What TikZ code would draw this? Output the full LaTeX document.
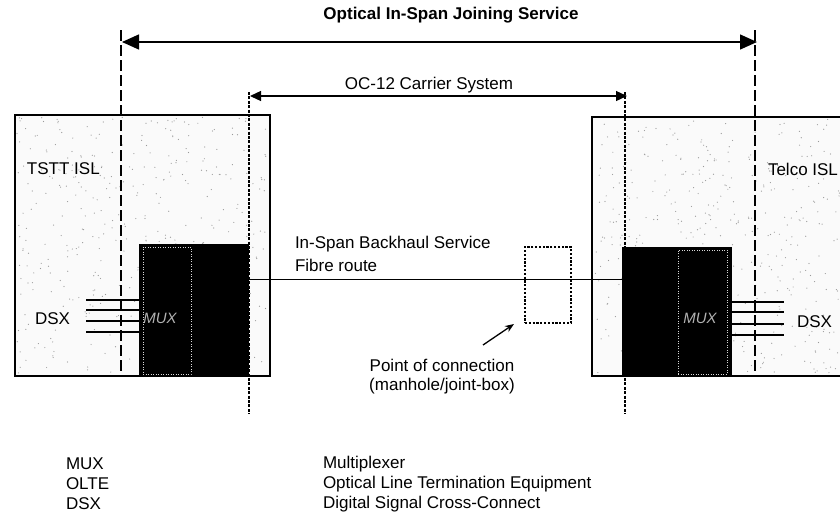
\documentclass[tikz,border=0pt]{standalone}
\usepackage{fontspec}
\setmainfont{Liberation Sans}
\usetikzlibrary{arrows.meta}
\begin{document}
\begin{tikzpicture}[x=1pt,y=-1pt,
  every node/.style={font=\fontsize{17}{20}\selectfont, inner sep=0pt, outer sep=0pt},
  islbox/.style={draw, line width=1.2pt, fill=gray!4, anchor=north west},
  oltebox/.style={fill=black, anchor=north west},
  muxbox/.style={draw=white!85!black, dash pattern=on 1pt off 1.5pt, line width=0.9pt, anchor=north west},
  muxtext/.style={text=white!70!black, font=\fontsize{15}{18}\selectfont\itshape},
  longdash/.style={line width=1.7pt, dash pattern=on 11pt off 4pt},
  ocdash/.style={line width=2.8pt, dash pattern=on 3pt off 1.4pt},
  dsxline/.style={line width=1.3pt},
  fibre/.style={line width=1pt},
  bigarrow/.style={line width=1.4pt, {Triangle[length=17pt,width=15pt]}-{Triangle[length=17pt,width=15pt]}},
  smallarrow/.style={line width=1.3pt, {Triangle[length=11pt,width=10pt]}-{Triangle[length=11pt,width=10pt]}},
  pocbox/.style={draw, line width=2.8pt, dash pattern=on 2.2pt off 1.6pt, anchor=north west},
  lbl/.style={anchor=west},
]
\useasboundingbox (0,0) rectangle (840,525);

% ISL boxes
\node[islbox, minimum width=255pt, minimum height=261pt] (islL) at (15,115) {};
\node[islbox, minimum width=262pt, minimum height=259pt] (islR) at (592,117) {};

% speckle
\pgfmathsetseed{11}
\foreach \i in {1,...,420}{
  \pgfmathsetmacro\xx{17+251*rnd}
  \pgfmathsetmacro\yy{117+257*rnd}
  \fill[gray!80] (\xx,\yy) circle (0.6pt);
}
\foreach \i in {1,...,420}{
  \pgfmathsetmacro\xx{594+246*rnd}
  \pgfmathsetmacro\yy{119+255*rnd}
  \fill[gray!80] (\xx,\yy) circle (0.6pt);
}

% OLTE blocks
\node[oltebox, minimum width=110pt, minimum height=132pt] (olteL) at (139,244) {};
\node[oltebox, minimum width=110pt, minimum height=129pt] (olteR) at (622,247) {};
\node[muxbox, minimum width=48pt, minimum height=127pt] (muxL) at (143,247) {};
\node[muxbox, minimum width=49pt, minimum height=124pt] (muxR) at (678,250) {};
\node[muxtext] (muxLt) at (160,318) {MUX};
\node[muxtext] (muxRt) at (700,318) {MUX};

% labels in boxes
\node[lbl] (tstt) at (27,169) {TSTT ISL};
\node[lbl] (telco) at (768,169) {Telco ISL};
\node[lbl] (dsxL) at (35,319) {DSX};
\node[lbl] (dsxR) at (797,322) {DSX};

% DSX lines
\foreach \yv [count=\k] in {300,310,321,332}{
  \coordinate (dl\k a) at (86,\yv);
  \draw[dsxline] (dl\k a) -- (olteL.west |- dl\k a);
}
\foreach \yv [count=\k] in {302,312,324,335}{
  \coordinate (dr\k a) at (784,\yv);
  \draw[dsxline] (olteR.east |- dr\k a) -- (dr\k a);
}

% fibre route
\coordinate (fy) at (0,279);
\draw[fibre] (olteL.east |- fy) -- (olteR.west |- fy);

% point of connection box
\node[pocbox, minimum width=46pt, minimum height=76pt] (poc) at (525,247) {};
\coordinate (pstart) at (483,345);
\draw[line width=1.3pt, -{Stealth[length=9pt,width=7pt]}] (pstart) -- ([shift={(-11,1)}]poc.south west);
\node[lbl] (inspan) at (295,244) {In-Span Backhaul Service};
\node[lbl] (froute) at (295,265) {Fibre route};
\node (pocA) at (442,365) {Point of connection};
\node (pocB) at (442,386) {(manhole/joint-box)};

% long dashed lines (joining service)
\coordinate (jLt) at (121,30);
\coordinate (jLb) at (121,376);
\coordinate (jRt) at (755,30);
\coordinate (jRb) at (755,376);
\draw[longdash] (jLt) -- (jLb);
\draw[longdash] (jRt) -- (jRb);

% OC-12 dashed lines
\coordinate (oLt) at (249,92);
\coordinate (oLb) at (249,414);
\coordinate (oRt) at (625,92);
\coordinate (oRb) at (625,414);
\draw[ocdash] (oLt) -- (oLb);
\draw[ocdash] (oRt) -- (oRb);

% arrows
\coordinate (aJL) at (122,42);
\coordinate (aJR) at (757,42);
\draw[bigarrow] (aJL) -- (aJR);
\coordinate (aOL) at (250,96);
\coordinate (aOR) at (627,96);
\draw[smallarrow] (aOL) -- (aOR);

\node[font=\fontsize{17}{20}\selectfont\bfseries] (title) at (451,15) {Optical In-Span Joining Service};
\node (oc12) at (429,85) {OC-12 Carrier System};

% legend
\node[lbl] (lg1) at (66,464) {MUX};
\node[lbl] (lg2) at (66,484) {OLTE};
\node[lbl] (lg3) at (66,504) {DSX};
\node[lbl] (ld1) at (323,464) {Multiplexer};
\node[lbl] (ld2) at (323,484) {Optical Line Termination Equipment};
\node[lbl] (ld3) at (323,504) {Digital Signal Cross-Connect};
\end{tikzpicture}
\end{document}
